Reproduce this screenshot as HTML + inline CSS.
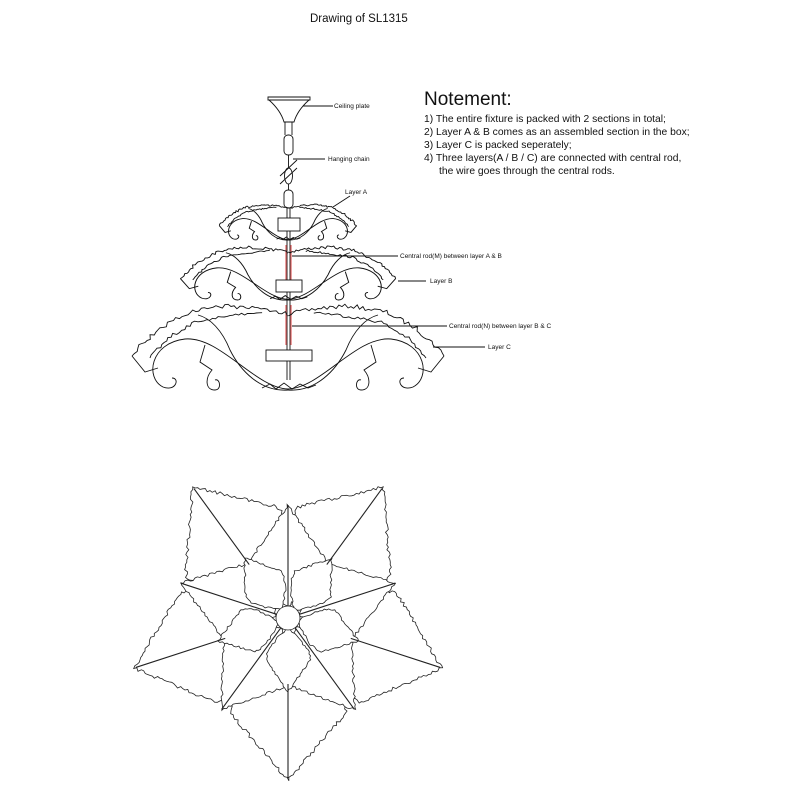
<!DOCTYPE html>
<html><head><meta charset="utf-8"><style>
html,body{margin:0;padding:0;background:#fff;}
svg{display:block}
text{font-family:"Liberation Sans",Arial,sans-serif;fill:#111}
</style></head><body>
<svg id="s" width="800" height="800" viewBox="0 0 800 800" xmlns="http://www.w3.org/2000/svg">
<rect width="800" height="800" fill="#fff"/>
<text x="310" y="22" font-size="11.5">Drawing of SL1315</text>
<text x="424" y="105" font-size="19">Notement:</text>
<g font-size="10.3">
<text x="424" y="122">1) The entire fixture is packed with 2 sections in total;</text>
<text x="424" y="135">2) Layer A &amp; B comes as an assembled section in the box;</text>
<text x="424" y="148">3) Layer C is packed seperately;</text>
<text x="424" y="161">4) Three layers(A / B / C) are connected with central rod,</text>
<text x="439" y="174">the wire goes through the central rods.</text>
</g>
<g font-size="6.5">
<text x="334" y="108">Ceiling plate</text>
<text x="328" y="161">Hanging chain</text>
<text x="345" y="194">Layer A</text>
<text x="400" y="258">Central rod(M) between layer A &amp; B</text>
<text x="430" y="283">Layer B</text>
<text x="449" y="328">Central rod(N) between layer B &amp; C</text>
<text x="488" y="349">Layer C</text>
</g>
<g stroke="#111" stroke-width="0.9" fill="none">
<line x1="303" y1="106" x2="333" y2="106"/>
<line x1="293" y1="159" x2="325" y2="159"/>
<line x1="333" y1="207" x2="350" y2="196"/>
<line x1="292" y1="256" x2="398" y2="256"/>
<line x1="398" y1="281" x2="426" y2="281"/>
<line x1="292" y1="326" x2="447" y2="326"/>
<line x1="433" y1="347" x2="485" y2="347"/>
<path d="M268,97 L310,97 L310,100 L268,100 Z"/>
<path d="M269,100 C278,108 282,115 284,122 L294,122 C296,115 300,108 309,100"/>
<path d="M285,122 L285,135 M292,122 L292,135"/>
<rect x="284" y="135" width="9" height="20" rx="4"/>
<line x1="288.5" y1="155" x2="288.5" y2="168"/>
<path d="M280,176 L297,160 M280,184 L297,168"/>
<ellipse cx="288.5" cy="176" rx="4" ry="8"/>
<line x1="288.5" y1="184" x2="288.5" y2="190"/>
<rect x="284" y="190" width="9" height="18" rx="4"/>
<line x1="287" y1="208" x2="287" y2="380"/>
<line x1="290" y1="208" x2="290" y2="380"/>
</g>
<g stroke="#e06060" stroke-width="1.2">
<line x1="286" y1="245" x2="286" y2="290"/>
<line x1="291" y1="245" x2="291" y2="290"/>
<line x1="286" y1="305" x2="286" y2="345"/>
<line x1="291" y1="305" x2="291" y2="345"/>
</g>
<g id="layers" stroke="#111" stroke-width="0.9" fill="none"></g>
<g stroke="#111" stroke-width="0.9" fill="#fff">
<rect x="278" y="218" width="22" height="13"/>
<rect x="276" y="280" width="26" height="12"/>
<rect x="266" y="350" width="46" height="11"/>
</g>
<g id="flower" stroke="#222" stroke-width="0.8" fill="#fff"></g>
</svg>
<script>
var seed=7;function rnd(){seed=(seed*16807)%2147483647;return seed/2147483647;}
function serr(pts,amp,step){var out=[];for(var i=0;i<pts.length-1;i++){var a=pts[i],b=pts[i+1];var dx=b[0]-a[0],dy=b[1]-a[1];var L=Math.hypot(dx,dy);if(L<0.01)continue;var n=Math.max(1,Math.round(L/step));var nx=-dy/L,ny=dx/L;for(var k=0;k<n;k++){var t=k/n;var j=(rnd()-0.5)*2*amp;out.push([a[0]+dx*t+nx*j,a[1]+dy*t+ny*j]);}}out.push(pts[pts.length-1]);return out;}
function pd(p){return 'M'+p.map(function(q){return q[0].toFixed(1)+','+q[1].toFixed(1)}).join(' L');}
var NS='http://www.w3.org/2000/svg';
function add(g,tag,at){var e=document.createElementNS(NS,tag);for(var k in at)e.setAttribute(k,at[k]);g.appendChild(e);return e;}
var LG=document.getElementById('layers');
function layer(bottom,sx,sy){
 var g=add(LG,'g',{transform:'translate(288,'+bottom+') scale('+sx+','+sy+') translate(-288,-390)','stroke-width':(0.9/sy).toFixed(2)});
 [1,-1].forEach(function(m){
  function X(x){return 288+m*(x-288);}
  var top=[[288,314],[255,308],[225,306],[190,312],[160,328],[138,348],[132,356]].map(function(p){return[X(p[0]),p[1]]});
  add(g,'path',{d:pd(serr(top,2.2,3))});
  var top2=[[262,312],[230,316],[195,322],[168,338],[150,358]].map(function(p){return[X(p[0]),p[1]]});
  add(g,'path',{d:pd(serr(top2,1.6,3))});
  add(g,'path',{d:'M'+X(132)+',356 L'+X(145)+',372 L'+X(158)+',368'});
  add(g,'path',{d:'M288,389 C'+X(255)+',388 '+X(220)+',336 '+X(185)+',339 C'+X(150)+',343 '+X(145)+',378 '+X(163)+',387 C'+X(176)+',392 '+X(180)+',378 '+X(172)+',378'});
  add(g,'path',{d:'M'+X(205)+',345 L'+X(200)+',362 L'+X(212)+',370 C'+X(205)+',378 '+X(205)+',390 '+X(215)+',390 C'+X(222)+',390 '+X(220)+',378 '+X(215)+',380'});
  add(g,'path',{d:'M288,390 C'+X(260)+',392 '+X(240)+',370 '+X(230)+',350 C'+X(222)+',330 '+X(210)+',318 '+X(198)+',315'});
 });
 add(g,'path',{d:'M262,388 L270,384 L276,389 L284,383 L292,389 L300,384 L308,388 L316,385'});
}
layer(390,1,1);layer(300,0.69,0.63);layer(240,0.44,0.42);
var F=document.getElementById('flower'),cx=288,cy=618;
function leaf(ang,r0,r1,hw,amp,peak){
 var a=ang*Math.PI/180,ca=Math.cos(a),sa=Math.sin(a);
 function P(u,v){return[cx+ca*u-sa*v,cy+sa*u+ca*v];}
 var L=[],R=[],N=16;
 for(var i=0;i<=N;i++){var t=i/N;var w;
  if(t<peak)w=hw*Math.sin(Math.PI/2*t/peak);else w=hw*(1-(t-peak)/(1-peak));
  w=Math.max(w,0);var u=r0+(r1-r0)*t;L.push(P(u,w));R.push(P(u,-w));}
 var pts=L.concat(R.reverse());
 add(F,'path',{d:pd(serr(pts,amp,2.5))+'Z'});
}
var big=[90,162,234,306,18],med=[270,342,54,126,198];
big.forEach(function(a){leaf(a,40,162,58,1.6,0.45)});
med.forEach(function(a){leaf(a,12,113,38,1.3,0.45)});
big.forEach(function(a){leaf(a,10,74,22,1.1,0.5)});
function ray(a,r0,r1){var t=a*Math.PI/180;add(F,'line',{x1:cx+Math.cos(t)*r0,y1:cy+Math.sin(t)*r0,x2:cx+Math.cos(t)*r1,y2:cy+Math.sin(t)*r1,'stroke-width':1.1});}
med.forEach(function(a){ray(a,12,113)});
big.forEach(function(a){ray(a,66,160)});
add(F,'circle',{cx:cx,cy:cy,r:12});
</script>
</body></html>
